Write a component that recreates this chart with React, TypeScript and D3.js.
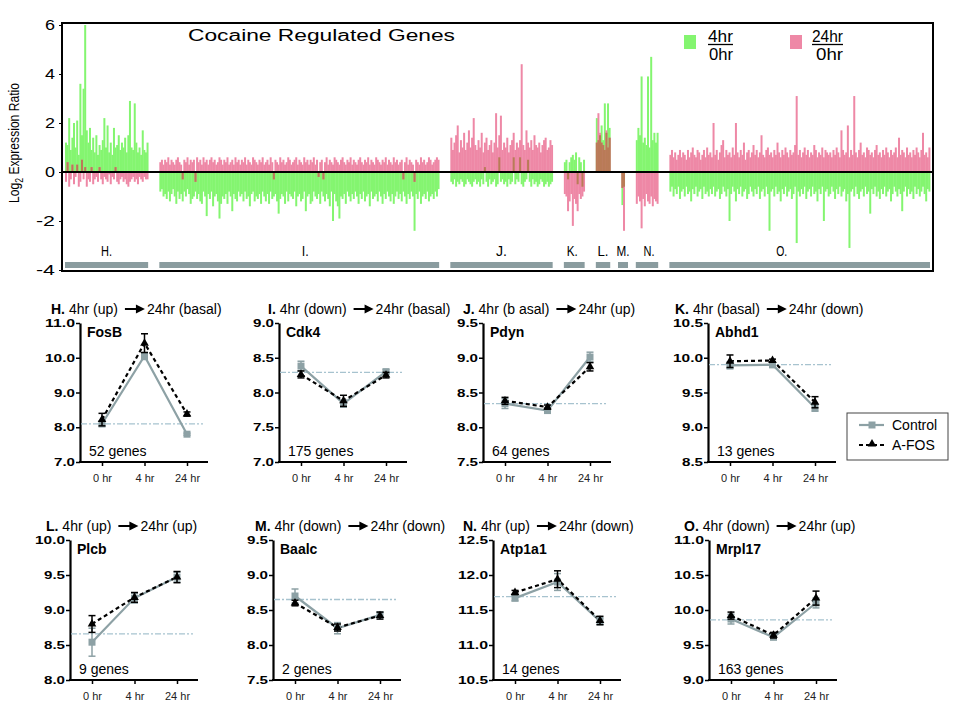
import React, { useEffect, useRef } from "react";
import * as d3 from "d3";

// ---------- top chart: log2 ratio per gene, one pair of arrays per cluster ----------
const clusters = ["H.", "I.", "J.", "K.", "L.", "M.", "N.", "O."];

// 4hr / 0hr (green) and 24hr / 0hr (pink)
const h4 = [1.2,1.1,2.2,0.9,1.4,2.0,1.0,2.1,0.7,3.6,1.5,3.4,6.0,1.7,1.2,1.8,0.9,1.4,0.8,1.5,0.7,1.1,0.9,1.3,2.2,1.0,1.9,0.8,1.2,0.7,1.8,1.0,1.1,1.5,0.9,1.2,1.0,1.4,0.8,1.5,2.9,1.0,0.9,2.8,1.2,0.8,1.0,0.7,1.7,0.9,0.8,1.2];
const h24 = [-0.4,0.4,-0.6,-0.3,0.3,-0.5,-0.2,0.3,-0.6,-0.4,0.5,-0.3,0.2,-0.6,-0.3,-0.4,0.2,-0.5,-0.3,-0.2,-0.4,0.2,-0.3,-0.5,-0.2,-0.3,-0.4,-0.1,-0.5,-0.2,-0.3,0.2,-0.4,-0.5,-0.3,-0.2,-0.4,-0.3,-0.5,-0.6,-0.4,-0.3,-0.2,-0.4,-0.3,-0.5,-0.2,-0.3,-0.4,-0.2,-0.3,-0.3];

const i4 = [
  -0.8,-0.7,-1.0,-0.9,-1.1,-0.8,-1.2,-0.9,-0.7,-1.0,-1.3,-0.8,-1.1,-0.9,-1.2,-0.8,-1.0,-0.7,-0.9,-1.3,-1.1,-1.0,-0.8,-1.1,-0.9,
  -1.2,-1.3,-0.8,-1.0,-1.8,-0.9,-1.1,-0.8,-1.4,-1.0,-0.9,-1.2,-1.9,-1.3,-1.0,-1.1,-0.9,-1.3,-0.8,-1.0,-1.6,-0.9,-1.1,-1.2,-0.8,
  -1.0,-0.9,-1.2,-0.8,-1.1,-1.0,-1.4,-0.9,-0.8,-1.2,-1.0,-1.1,-0.9,-1.3,-0.8,-1.0,-1.2,-0.9,-1.3,-0.8,-1.1,-1.0,-0.9,-1.2,-1.7,
  -1.1,-0.9,-1.0,-1.3,-0.8,-1.2,-0.9,-1.0,-1.1,-0.8,-1.4,-1.0,-0.9,-1.2,-1.1,-0.8,-1.6,-1.0,-0.9,-1.3,-1.2,-0.8,-1.0,-1.1,-0.9,
  -1.3,-0.8,-1.0,-1.2,-0.9,-1.1,-1.4,-0.8,-2.0,-0.9,-1.2,-1.4,-1.9,-1.0,-1.1,-0.9,-1.3,-0.8,-1.0,-1.2,-0.9,-1.1,-0.8,-1.0,-1.3,
  -0.9,-1.1,-0.8,-1.2,-1.0,-0.9,-1.4,-0.8,-1.1,-1.0,-0.9,-1.2,-0.8,-1.0,-1.3,-0.9,-1.1,-0.8,-1.0,-1.2,-0.9,-1.3,-1.0,-0.8,-1.1,
  -0.9,-1.2,-0.8,-1.0,-1.3,-0.9,-1.1,-0.8,-1.0,-2.4,-0.9,-1.1,-0.8,-1.3,-1.0,-0.9,-1.1,-0.8,-1.2,-1.0,-0.9,-1.1,-0.8,-1.0,-0.7,
];
const i24 = [
  0.4,0.5,0.3,0.5,0.4,0.6,0.3,0.5,0.4,0.3,0.5,0.6,0.4,0.3,-0.3,0.5,0.4,0.6,0.3,0.5,0.4,0.5,-0.4,0.6,0.4,
  0.5,0.3,0.6,0.4,0.5,0.3,0.5,0.6,0.4,0.5,0.3,0.4,0.6,0.5,0.3,0.5,0.4,0.6,0.3,0.4,0.5,0.3,0.6,0.4,0.5,
  0.3,0.5,0.4,0.6,0.3,0.5,0.4,0.3,0.6,0.5,0.4,0.3,0.5,0.4,0.6,0.3,0.4,0.5,0.3,0.6,0.4,-0.3,0.5,0.4,0.3,
  0.6,0.4,0.5,0.3,0.4,0.6,0.5,0.3,0.4,0.5,0.6,0.3,0.5,0.4,0.3,0.6,0.4,0.5,0.3,0.5,0.4,0.6,0.3,0.5,-0.2,
  0.4,0.5,-0.3,0.4,0.6,0.3,0.5,0.4,0.3,0.6,0.5,0.4,0.3,0.5,0.6,0.4,0.3,0.5,0.4,0.6,0.3,0.5,0.4,0.3,0.5,
  0.6,0.4,0.3,0.5,0.4,0.6,0.3,0.5,0.4,0.3,0.6,0.5,0.4,0.3,0.5,0.4,0.6,0.3,0.5,0.4,0.3,0.6,0.4,0.5,0.3,
  0.4,0.5,-0.3,0.4,0.6,0.3,0.5,0.4,0.3,-0.4,0.5,0.4,0.3,0.6,0.4,0.5,0.3,0.4,0.6,0.5,0.3,0.4,0.5,0.6,0.5,
];

const j4 = [
  -0.4,-0.5,-0.3,-0.6,-0.4,-0.5,-0.3,-0.4,-0.6,-0.5,-0.3,-0.4,-0.5,-0.6,-0.4,-0.3,
  -0.5,-0.4,-0.6,-0.3,-0.5,0.2,-0.4,-0.6,-0.3,-0.5,-0.4,-0.3,-0.6,-0.5,0.6,-0.4,
  -0.3,-0.5,-0.4,-0.6,-0.3,-0.5,-0.4,0.6,-0.5,-0.3,-0.4,0.6,-0.5,-0.6,-0.4,-0.3,
  0.5,-0.4,-0.6,-0.3,-0.5,-0.4,-0.6,-0.5,-0.3,-0.4,-0.6,-0.5,-0.4,-0.6,-0.5,-0.4,
];
const j24 = [
  1.4,0.9,1.2,1.5,1.9,0.8,1.3,1.0,1.6,0.9,1.2,1.7,1.0,1.4,2.2,1.1,
  0.9,1.3,1.0,1.6,0.8,1.2,1.4,0.9,1.1,1.3,0.8,1.2,2.4,1.0,1.5,2.3,
  0.9,1.2,1.0,1.4,0.8,1.1,1.3,1.6,0.9,1.2,1.0,1.3,4.4,1.1,0.9,1.7,
  1.2,1.0,1.3,0.9,1.5,1.1,1.0,1.2,0.8,1.1,1.3,1.4,0.9,1.0,1.3,1.1,
];

const k4 = [0.4,0.5,-0.3,0.4,0.6,0.7,0.5,0.8,-0.5,0.6,0.4,-0.6,0.5];
const k24 = [-0.9,-1.0,-1.6,-1.2,-0.9,-2.2,-1.1,-1.3,-1.6,-0.9,-1.1,-1.0,-0.8];

const l4 = [2.2,1.3,1.5,1.9,1.3,2.8,1.6,2.8,1.8];
const l24 = [1.2,2.4,1.6,1.2,1.1,0.9,1.7,1.0,1.4];

const m4 = [-1.35,-0.6];
const m24 = [-0.65,-2.4];

const n4 = [1.3,1.8,1.5,3.9,1.2,1.4,1.1,3.9,1.0,4.7,1.3,1.6,1.2,1.6];
const n24 = [-1.3,-1.0,-1.2,-2.3,-1.1,-1.4,-0.9,-1.2,-1.3,-1.0,-1.4,-1.1,-1.2,-1.3];

const o4 = [
  -0.8,-0.6,-1.0,-0.7,-0.9,-0.6,-1.1,-0.8,-0.7,-1.0,-0.6,-0.9,-0.8,-1.2,-0.7,-0.9,-0.6,-1.0,-0.8,-0.7,-1.1,-0.6,-0.9,-0.8,-1.0,
  -0.7,-0.9,-0.6,-1.0,-0.8,-0.7,-1.1,-0.9,-0.6,-0.8,-1.0,-0.7,-2.0,-0.9,-0.6,-0.8,-1.2,-0.7,-0.9,-0.6,-1.0,-0.8,-0.7,-1.1,-0.9,
  -0.6,-0.8,-1.0,-0.7,-0.9,-0.6,-1.1,-0.8,-0.7,-1.0,-0.6,-0.9,-2.4,-0.8,-0.7,-1.0,-0.6,-0.9,-0.8,-1.2,-0.7,-0.9,-0.6,-1.0,-0.8,
  -0.7,-1.1,-0.9,-0.6,-2.9,-0.8,-1.0,-0.7,-0.9,-0.6,-1.1,-0.8,-0.7,-1.0,-0.6,-0.9,-0.8,-1.2,-0.7,-0.9,-0.6,-2.0,-0.8,-0.7,-1.0,
  -0.9,-0.6,-0.8,-1.1,-0.7,-0.9,-0.6,-1.0,-0.8,-0.7,-1.2,-0.9,-3.1,-0.8,-0.7,-1.0,-0.6,-0.9,-1.1,-0.8,-0.7,-1.0,-0.6,-0.9,-0.8,
  -1.7,-0.7,-0.9,-0.6,-1.0,-0.8,-1.1,-0.7,-0.9,-0.6,-1.0,-0.8,-0.7,-1.2,-0.9,-0.6,-0.8,-1.0,-0.7,-0.9,-1.6,-0.8,-0.6,-1.0,-0.7,
  -0.9,-0.8,-1.1,-0.6,-0.9,-0.7,-1.0,-0.8,-0.6,-0.9,-1.2,-0.7,-0.8,
];
const o24 = [
  0.7,0.9,0.6,0.8,0.5,0.7,0.9,0.6,0.8,0.7,0.5,0.9,0.6,0.8,1.0,0.7,0.6,0.9,0.8,0.5,0.7,0.9,0.6,1.0,0.7,
  0.8,0.6,2.0,0.7,0.9,0.5,0.8,1.1,1.3,0.6,0.9,0.7,0.8,0.6,1.0,0.7,2.0,0.8,0.6,0.9,0.7,1.2,0.5,0.8,0.9,
  0.6,0.8,1.1,0.7,0.9,0.6,0.8,1.5,0.7,0.6,0.9,1.0,0.7,0.8,0.6,0.9,0.7,1.2,0.8,0.6,0.9,0.7,1.0,0.8,0.6,
  0.9,0.7,0.8,1.1,3.1,0.7,0.9,0.6,0.8,1.0,0.7,0.9,0.6,0.8,0.7,1.1,0.9,0.6,0.8,0.7,1.0,0.6,0.9,0.8,0.7,
  0.8,0.6,0.9,0.7,1.0,0.8,0.6,1.7,0.9,0.7,0.8,1.9,0.6,0.9,0.7,3.1,0.8,0.6,0.9,1.2,0.7,0.8,0.6,1.0,0.9,
  0.7,0.8,0.6,0.9,1.1,0.7,0.8,0.6,0.9,0.7,1.0,0.8,0.6,0.9,0.7,0.8,1.0,0.6,1.4,0.7,0.9,0.8,0.6,1.0,0.7,
  0.8,0.6,0.9,0.7,1.0,0.8,0.6,0.9,1.6,0.7,0.8,0.6,1.0,
];

const fourHr = [h4, i4, j4, k4, l4, m4, n4, o4];
const twentyFourHr = [h24, i24, j24, k24, l24, m24, n24, o24];
const topTicks = [6, 4, 2, 0, -2, -4];

// ---------- small panels ----------
const timeLabels = ["0 hr", "4 hr", "24 hr"];
const panelLetters = ["H", "I", "J", "K", "L", "M", "N", "O"];
const panelFrom = ["4hr (up)", "4hr (down)", "4hr (b asal)", "4hr (basal)", "4hr (up)", "4hr (down)", "4hr (up)", "4hr (down)"];
const panelTo = ["24hr (basal)", "24hr (basal)", "24hr (up)", "24hr (down)", "24hr (up)", "24hr (down)", "24hr (down)", "24hr (up)"];
const geneNames = ["FosB", "Cdk4", "Pdyn", "Abhd1", "Plcb", "Baalc", "Atp1a1", "Mrpl17"];
const geneCounts = [52, 175, 64, 13, 9, 2, 14, 163];
const yDomains = [[7, 11], [7, 9], [7.5, 9.5], [8.5, 10.5], [8, 10], [7.5, 9.5], [10.5, 12.5], [9, 11]];
const baselines = [8.1, 8.29, 8.34, 9.9, 8.66, 8.65, 11.69, 9.86];
const controlMean = [[8.1, 10.05, 7.8], [8.38, 7.84, 8.3], [8.34, 8.24, 9.01], [9.89, 9.9, 9.28], [8.54, 9.17, 9.47], [8.7, 8.24, 8.43], [11.67, 11.9, 11.34], [9.87, 9.61, 10.1]];
const controlErr = [[0.08, 0.1, 0.03], [0.07, 0.05, 0.03], [0.07, 0.03, 0.07], [0.05, 0.04, 0.05], [0.2, 0.07, 0.07], [0.1, 0.08, 0.04], [0.04, 0.12, 0.05], [0.07, 0.03, 0.07]];
const afosMean = [[8.22, 10.42, 8.38], [8.26, 7.88, 8.25], [8.38, 8.29, 8.87], [9.95, 9.96, 9.36], [8.8, 9.18, 9.47], [8.6, 8.25, 8.42], [11.75, 11.94, 11.35], [9.92, 9.64, 10.17]];
const afosErr = [[0.18, 0.27, 0.06], [0.05, 0.08, 0.04], [0.05, 0.03, 0.06], [0.09, 0.02, 0.08], [0.12, 0.07, 0.08], [0.04, 0.05, 0.05], [0.03, 0.12, 0.06], [0.05, 0.04, 0.1]];

const GREEN = "#84F570";
const PINK = "#EE88A6";
const BROWN = "#B97B57";
const BAR_GREY = "#8A9C9F";
const CTRL = "#8DA1A5";
const FONT = "Liberation Sans, Arial, Helvetica, sans-serif";

export default function App() {
  const svgRef = useRef<SVGSVGElement>(null);

  useEffect(() => {
    draw();
  }, []);

  const draw = () => {
    const svg = d3.select(svgRef.current);
    svg.selectAll("*").remove();
    svg.attr("font-family", FONT);

    // ---------------- top chart ----------------
    const left = 62, right = 933, top = 23, bottom = 271;
    const gap = 7;
    const genes: any[] = [];
    let slot = 0;
    const clusterSlots: number[][] = [];
    clusters.forEach((c, ci) => {
      const first = slot;
      fourHr[ci].forEach((v, k) => {
        genes.push({ slot, g: v, p: twentyFourHr[ci][k] });
        slot++;
      });
      clusterSlots.push([first, slot - 1]);
      slot += gap;
    });
    const nSlots = slot - gap;

    const x = d3.scaleBand<number>().domain(d3.range(nSlots)).range([65, 930]);
    const y = d3.scaleLinear().domain([-4, 6]).range([270, 25]);
    const bw = x.bandwidth();
    const drawW = bw + 0.4; // a touch wider so neighbouring bars read as a solid block

    const barY = (v: number) => Math.min(y(v), y(0));
    const barH = (v: number) => Math.abs(y(v) - y(0));

    const bars = svg.append("g");
    bars.selectAll("rect.g4").data(genes).join("rect")
      .attr("x", (d) => x(d.slot)).attr("width", drawW)
      .attr("y", (d) => barY(d.g)).attr("height", (d) => barH(d.g))
      .attr("fill", GREEN);
    bars.selectAll("rect.p24").data(genes).join("rect")
      .attr("x", (d) => x(d.slot)).attr("width", drawW)
      .attr("y", (d) => barY(d.p)).attr("height", (d) => barH(d.p))
      .attr("fill", PINK);
    const overlap = genes.filter((d) => d.g * d.p > 0);
    bars.selectAll("rect.ov").data(overlap).join("rect")
      .attr("x", (d) => x(d.slot)).attr("width", drawW)
      .attr("y", (d) => barY(Math.sign(d.g) * Math.min(Math.abs(d.g), Math.abs(d.p))))
      .attr("height", (d) => barH(Math.min(Math.abs(d.g), Math.abs(d.p))))
      .attr("fill", BROWN);

    // zero line + frame
    svg.append("line").attr("x1", left).attr("x2", right).attr("y1", y(0)).attr("y2", y(0))
      .attr("stroke", "#000").attr("stroke-width", 2);
    svg.append("rect").attr("x", left).attr("y", top).attr("width", right - left).attr("height", bottom - top)
      .attr("fill", "none").attr("stroke", "#000").attr("stroke-width", 2);

    svg.append("g").attr("transform", `translate(${left},0)`)
      .call(d3.axisLeft(y).tickValues(topTicks).tickSize(3).tickSizeOuter(0).tickFormat((d) => String(d)))
      .call((g) => g.select(".domain").remove())
      .call((g) => g.selectAll(".tick text")
        .attr("font-size", 14).attr("font-family", FONT).attr("fill", "#000").attr("x", -7)
        .attr("textLength", (d) => (String(d).length === 1 ? 10 : 19)).attr("lengthAdjust", "spacingAndGlyphs"));

    const yl = svg.append("text").attr("transform", "translate(19,143) rotate(-90)")
      .attr("text-anchor", "middle").attr("font-size", 14)
      .attr("textLength", 120).attr("lengthAdjust", "spacingAndGlyphs");
    yl.append("tspan").text("Log");
    yl.append("tspan").attr("font-size", 10).attr("dy", 4).text("2");
    yl.append("tspan").attr("dy", -4).text(" Expression Ratio");

    svg.append("text").attr("x", 188).attr("y", 41).attr("font-size", 16)
      .attr("textLength", 267).attr("lengthAdjust", "spacingAndGlyphs").text("Cocaine Regulated Genes");

    // legend
    const legendItems = [
      { color: GREEN, sq: 684, num: "4hr", nx: 708, nw: 25, dx: 709 },
      { color: PINK, sq: 790, num: "24hr", nx: 812, nw: 31, dx: 816 },
    ];
    legendItems.forEach((l) => {
      svg.append("rect").attr("x", l.sq).attr("y", 35).attr("width", 12).attr("height", 14).attr("fill", l.color);
      svg.append("text").attr("x", l.nx).attr("y", 42).attr("font-size", 17)
        .attr("textLength", l.nw).attr("lengthAdjust", "spacingAndGlyphs").text(l.num);
      svg.append("line").attr("x1", l.nx).attr("x2", l.nx + l.nw).attr("y1", 44.5).attr("y2", 44.5)
        .attr("stroke", "#000").attr("stroke-width", 1.3);
      svg.append("text").attr("x", l.dx).attr("y", 60).attr("font-size", 17)
        .attr("textLength", l.dx === 709 ? 24 : 27).attr("lengthAdjust", "spacingAndGlyphs").text("0hr");
    });

    // cluster bars and labels
    const labelNudge = [0, 6, 0, -2, 0, 0, 2, -18];
    clusters.forEach((c, ci) => {
      const [a, b] = clusterSlots[ci];
      let x0 = x(a)!, x1 = x(b)! + bw;
      if (x1 - x0 < 10) {
        const mid = (x0 + x1) / 2;
        x0 = mid - 5; x1 = mid + 5;
      }
      svg.append("rect").attr("x", x0).attr("y", 262).attr("width", x1 - x0).attr("height", 6).attr("fill", BAR_GREY);
      svg.append("text").attr("x", (x0 + x1) / 2 + labelNudge[ci]).attr("y", 256)
        .attr("text-anchor", "middle").attr("font-size", 15)
        .attr("textLength", c[0] === "I" ? 7 : c[0] === "M" ? 13 : 11)
        .attr("lengthAdjust", "spacingAndGlyphs").text(c);
    });

    // ---------------- small panels ----------------
    const panelX = [80, 279, 483, 708, 70, 273, 493, 709];
    const titleX = [51, 268, 463, 675, 46, 255, 463, 684];

    panelLetters.forEach((letter, i) => {
      const row = i < 4 ? 0 : 1;
      const ox = panelX[i];
      const pTop = row ? 540 : 323;
      const pBottom = row ? 680 : 462;
      const titleY = row ? 531 : 314;
      const g = svg.append("g");

      const px = d3.scalePoint<string>().domain(timeLabels).range([ox + 22, ox + 107]);
      const [lo, hi] = yDomains[i];
      const py = d3.scaleLinear().domain([lo, hi]).range([pBottom, pTop]);
      const ticks = d3.range(5).map((k) => lo + (k * (hi - lo)) / 4);

      // title with arrow
      const t = g.append("text").attr("x", titleX[i]).attr("y", titleY).attr("font-size", 14);
      t.append("tspan").attr("font-weight", "bold").text(letter + ".");
      t.append("tspan").text(" " + panelFrom[i]);
      const w = (t.node() as SVGTextElement).getComputedTextLength();
      const ax = titleX[i] + w + 7;
      const cy = titleY - 5;
      g.append("path")
        .attr("d", `M${ax},${cy - 1}H${ax + 11}V${cy - 4.5}L${ax + 20},${cy}L${ax + 11},${cy + 4.5}V${cy + 1}H${ax}Z`)
        .attr("fill", "#000");
      g.append("text").attr("x", ax + 22).attr("y", titleY).attr("font-size", 14).text(panelTo[i]);

      // axes
      g.append("g").attr("transform", `translate(${ox},0)`)
        .call(d3.axisLeft(py).tickValues(ticks).tickSize(4).tickSizeOuter(0).tickFormat(d3.format(".1f")))
        .call((a) => a.select(".domain").attr("stroke-width", 2.2))
        .call((a) => a.selectAll(".tick line").attr("stroke-width", 1.5))
        .call((a) => a.selectAll(".tick text")
          .attr("font-size", 11).attr("font-weight", "bold").attr("font-family", FONT).attr("fill", "#000")
          .attr("x", -5)
          .attr("textLength", (d) => (d3.format(".1f")(d as number).length > 3 ? 30 : 21))
          .attr("lengthAdjust", "spacingAndGlyphs"));

      g.append("g").attr("transform", `translate(0,${pBottom})`)
        .call(d3.axisBottom(px).tickSize(4).tickSizeOuter(0).tickPadding(8))
        .call((a) => a.select(".domain").remove())
        .call((a) => a.selectAll(".tick line").attr("stroke-width", 1.5))
        .call((a) => a.selectAll(".tick text").attr("font-size", 11).attr("font-family", FONT).attr("fill", "#222"));
      g.append("line").attr("x1", ox - 1).attr("x2", ox + 128).attr("y1", pBottom).attr("y2", pBottom)
        .attr("stroke", "#000").attr("stroke-width", 2.2);

      // baseline
      g.append("line").attr("x1", ox + 1).attr("x2", ox + 123)
        .attr("y1", py(baselines[i])).attr("y2", py(baselines[i]))
        .attr("stroke", "#A7C3CF").attr("stroke-width", 1.3).attr("stroke-dasharray", "6,2,2,2");

      const ctrlPts = timeLabels.map((tl, k) => ({ t: tl, v: controlMean[i][k], e: controlErr[i][k] }));
      const afosPts = timeLabels.map((tl, k) => ({ t: tl, v: afosMean[i][k], e: afosErr[i][k] }));
      const line = d3.line<any>().x((d) => px(d.t)!).y((d) => py(d.v));

      g.append("path").attr("d", line(ctrlPts)).attr("fill", "none").attr("stroke", CTRL).attr("stroke-width", 2.2);
      g.append("path").attr("d", line(afosPts)).attr("fill", "none").attr("stroke", "#000")
        .attr("stroke-width", 2.2).attr("stroke-dasharray", "4,3");

      const errBars = (pts: any[], color: string) => {
        pts.forEach((d) => {
          const xx = px(d.t)!;
          const y0 = py(d.v - d.e), y1 = py(d.v + d.e);
          g.append("line").attr("x1", xx).attr("x2", xx).attr("y1", y0).attr("y2", y1).attr("stroke", color).attr("stroke-width", 1.5);
          [y0, y1].forEach((yy) =>
            g.append("line").attr("x1", xx - 3.5).attr("x2", xx + 3.5).attr("y1", yy).attr("y2", yy)
              .attr("stroke", color).attr("stroke-width", 1.5));
        });
      };
      errBars(ctrlPts, CTRL);
      g.selectAll(null).data(ctrlPts).join("rect")
        .attr("x", (d) => px(d.t)! - 3.5).attr("y", (d) => py(d.v) - 3.5)
        .attr("width", 7).attr("height", 7).attr("fill", CTRL);
      errBars(afosPts, "#000");
      g.selectAll(null).data(afosPts).join("path")
        .attr("transform", (d) => `translate(${px(d.t)},${py(d.v)})`)
        .attr("d", d3.symbol(d3.symbolTriangle, 32)())
        .attr("fill", "#000");

      g.append("text").attr("x", ox + 7).attr("y", pTop + 14).attr("font-size", 14).attr("font-weight", "bold").text(geneNames[i]);
      g.append("text").attr("x", ox + 9).attr("y", pBottom - 6).attr("font-size", 14).text(`${geneCounts[i]} genes`);
    });

    // panel legend
    const lg = svg.append("g");
    lg.append("rect").attr("x", 847).attr("y", 413).attr("width", 101).attr("height", 47)
      .attr("fill", "#fff").attr("stroke", "#444").attr("stroke-width", 1);
    lg.append("line").attr("x1", 859).attr("x2", 884).attr("y1", 425).attr("y2", 425).attr("stroke", CTRL).attr("stroke-width", 2.2);
    lg.append("rect").attr("x", 868.5).attr("y", 421.5).attr("width", 7).attr("height", 7).attr("fill", CTRL);
    lg.append("text").attr("x", 892).attr("y", 430).attr("font-size", 14).text("Control");
    lg.append("line").attr("x1", 859).attr("x2", 884).attr("y1", 445).attr("y2", 445)
      .attr("stroke", "#000").attr("stroke-width", 2.2).attr("stroke-dasharray", "4,3");
    lg.append("path").attr("transform", "translate(872,444)").attr("d", d3.symbol(d3.symbolTriangle, 32)()).attr("fill", "#000");
    lg.append("text").attr("x", 892).attr("y", 450).attr("font-size", 14).text("A-FOS");
  };

  return (
    <svg
      ref={svgRef}
      width={959}
      height={715}
      style={{ position: "absolute", left: 0, top: 0, background: "#fff" }}
    ></svg>
  );
}
